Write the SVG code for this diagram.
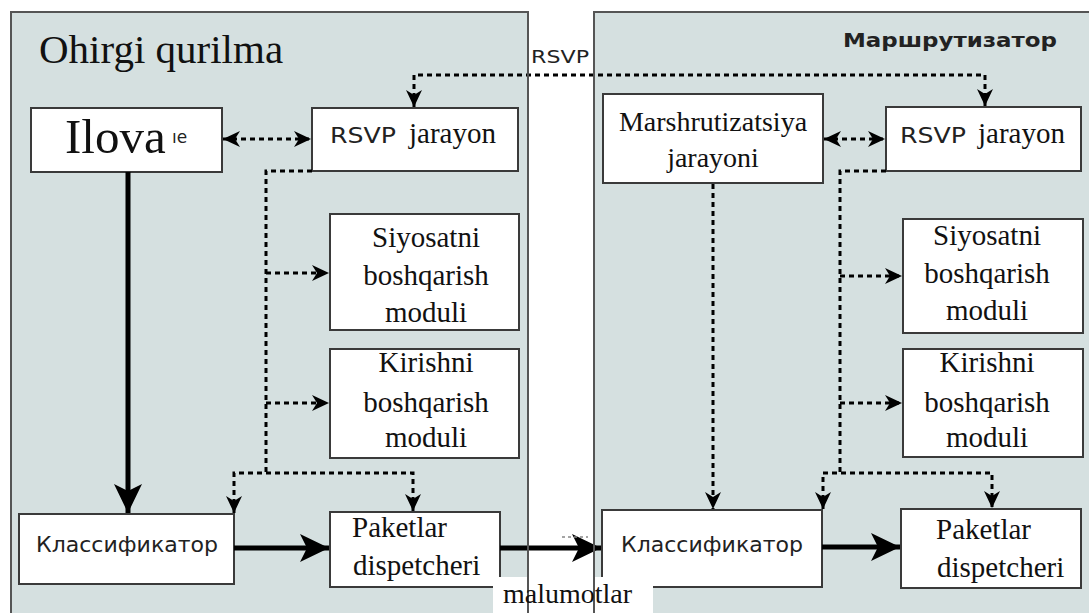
<svg xmlns="http://www.w3.org/2000/svg" width="1089" height="613" viewBox="0 0 1089 613">
<style>
.panel{fill:#d5e0e0;stroke:none}
.pline{fill:none;stroke:#555;stroke-width:2}
.box{fill:#fff;stroke:#3a3a3a;stroke-width:2}
.serif{font-family:"Liberation Serif","Times New Roman",serif;fill:#111}
.sans{font-family:"DejaVu Sans","Liberation Sans",Arial,sans-serif;fill:#222}
.dot{fill:none;stroke:#000;stroke-width:3;stroke-dasharray:5 4}
.thick{fill:none;stroke:#000;stroke-width:5}
</style>
<defs>
<marker id="ad" markerUnits="userSpaceOnUse" markerWidth="20" markerHeight="20" viewBox="-18 -9 20 18" refX="0" refY="0" orient="auto-start-reverse">
<path d="M0,0 L-17,-8 L-12,0 L-17,8 Z" fill="#000"/>
</marker>
<marker id="at" markerUnits="userSpaceOnUse" markerWidth="32" markerHeight="32" viewBox="-30 -15 32 30" refX="0" refY="0" orient="auto">
<path d="M0,0 L-29,-14 L-22,0 L-29,14 Z" fill="#000"/>
</marker>
</defs>
<rect class="panel" x="11" y="12" width="517" height="610"/>
<rect class="panel" x="594" y="12" width="510" height="610"/>
<text class="serif" x="39" y="63" font-size="41">Ohirgi qurilma</text>
<text class="sans" x="843" y="47" font-size="20" font-weight="bold" fill="#111" textLength="214" lengthAdjust="spacingAndGlyphs">Маршрутизатор</text>
<text class="sans" x="531" y="63" font-size="18" textLength="58" lengthAdjust="spacingAndGlyphs">RSVP</text>

<g id="ilova">
<rect class="box" x="31" y="108" width="191" height="64"/>
<text class="serif" x="65" y="153" font-size="49">Ilova</text>
<text class="sans" x="172" y="143" font-size="17">ıe</text>
</g>
<g id="rsvp-left">
<rect class="box" x="312" y="108" width="206" height="63"/>
<text class="sans" x="330" y="143" font-size="22" textLength="66" lengthAdjust="spacingAndGlyphs">RSVP</text>
<text class="serif" x="409" y="143" font-size="29">jarayon</text>
</g>
<g id="siyosat-left">
<rect class="box" x="330" y="214" width="189" height="116"/>
<text class="serif" x="426" y="247" font-size="29" text-anchor="middle">Siyosatni</text>
<text class="serif" x="426" y="285" font-size="29" text-anchor="middle">boshqarish</text>
<text class="serif" x="426" y="322" font-size="29" text-anchor="middle">moduli</text>
</g>
<g id="kirish-left">
<rect class="box" x="330" y="349" width="189" height="109"/>
<text class="serif" x="426" y="372" font-size="29" text-anchor="middle">Kirishni</text>
<text class="serif" x="426" y="412" font-size="29" text-anchor="middle">boshqarish</text>
<text class="serif" x="426" y="447" font-size="29" text-anchor="middle">moduli</text>
</g>
<g id="klass-left">
<rect class="box" x="19" y="514" width="215" height="70"/>
<text class="sans" x="36" y="552" font-size="21" textLength="182" lengthAdjust="spacingAndGlyphs">Классификатор</text>
</g>
<g id="paket-left">
<rect class="box" x="330" y="512" width="170" height="75"/>
<text class="serif" x="352" y="537" font-size="29">Paketlar</text>
<text class="serif" x="353" y="575" font-size="29">dispetcheri</text>
</g>

<g id="marsh">
<rect class="box" x="603" y="94" width="220" height="89"/>
<text class="serif" x="713" y="131" font-size="28" text-anchor="middle">Marshrutizatsiya</text>
<text class="serif" x="713" y="167" font-size="28" text-anchor="middle">jarayoni</text>
</g>
<g id="rsvp-right">
<rect class="box" x="886" y="107" width="195" height="64"/>
<text class="sans" x="900" y="143" font-size="22" textLength="66" lengthAdjust="spacingAndGlyphs">RSVP</text>
<text class="serif" x="978" y="143" font-size="29">jarayon</text>
</g>
<g id="siyosat-right">
<rect class="box" x="903" y="219" width="180" height="114"/>
<text class="serif" x="987" y="245" font-size="29" text-anchor="middle">Siyosatni</text>
<text class="serif" x="987" y="283" font-size="29" text-anchor="middle">boshqarish</text>
<text class="serif" x="987" y="320" font-size="29" text-anchor="middle">moduli</text>
</g>
<g id="kirish-right">
<rect class="box" x="903" y="349" width="180" height="108"/>
<text class="serif" x="987" y="372" font-size="29" text-anchor="middle">Kirishni</text>
<text class="serif" x="987" y="412" font-size="29" text-anchor="middle">boshqarish</text>
<text class="serif" x="987" y="447" font-size="29" text-anchor="middle">moduli</text>
</g>
<g id="klass-right">
<rect class="box" x="602" y="510" width="220" height="77"/>
<text class="sans" x="621" y="552" font-size="21" textLength="182" lengthAdjust="spacingAndGlyphs">Классификатор</text>
</g>
<g id="paket-right">
<rect class="box" x="901" y="509" width="180" height="79"/>
<text class="serif" x="936" y="539" font-size="29">Paketlar</text>
<text class="serif" x="937" y="577" font-size="29">dispetcheri</text>
</g>

<g id="connectors">
<path class="dot" d="M414,107 L414,75 L985,75 L985,106" marker-start="url(#ad)" marker-end="url(#ad)"/>
<path class="dot" d="M223,139 L311,139" marker-start="url(#ad)" marker-end="url(#ad)"/>
<path class="dot" d="M824,139 L885,139" marker-start="url(#ad)" marker-end="url(#ad)"/>
<path class="dot" d="M312,171 L266,171 L266,473"/>
<path class="dot" d="M266,273 L329,273" marker-end="url(#ad)"/>
<path class="dot" d="M266,403 L329,403" marker-end="url(#ad)"/>
<path class="dot" d="M234,513 L234,473 L413,473 L413,511" marker-start="url(#ad)" marker-end="url(#ad)"/>
<path class="dot" d="M886,171 L840,171 L840,473"/>
<path class="dot" d="M840,276 L902,276" marker-end="url(#ad)"/>
<path class="dot" d="M840,403 L902,403" marker-end="url(#ad)"/>
<path class="dot" d="M823,509 L823,473 L992,473 L992,508" marker-start="url(#ad)" marker-end="url(#ad)"/>
<path class="dot" d="M713,184 L713,509" marker-end="url(#ad)"/>
<path class="thick" d="M128,172 L128,513" marker-end="url(#at)"/>
<path class="thick" d="M234,548 L329,548" marker-end="url(#at)"/>
<path class="thick" d="M500,548 L601,548" marker-end="url(#at)"/>
<path class="thick" d="M822,547 L900,547" marker-end="url(#at)"/>
<path d="M562,537 L588,537" stroke="#888" stroke-width="1.5" stroke-dasharray="3 3" fill="none"/>
</g>

<rect x="493" y="577" width="160" height="40" fill="#fff"/>
<rect class="pline" x="11" y="12" width="517" height="620"/>
<rect class="pline" x="594" y="12" width="520" height="620"/>
<text class="serif" x="503" y="603" font-size="28">malumotlar</text>
</svg>
